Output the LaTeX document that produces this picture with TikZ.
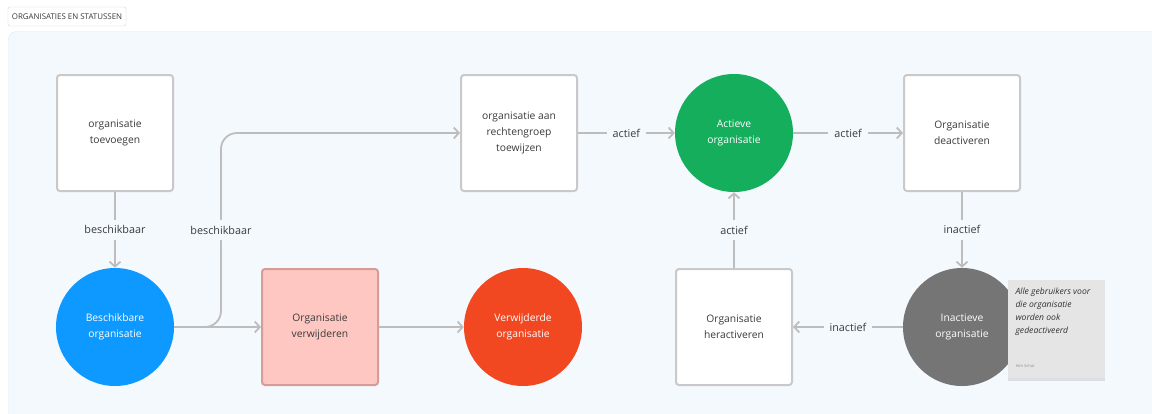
\documentclass[tikz,border=0pt]{standalone}
\usepackage{fontspec}
\setmainfont{Open Sans}
\usetikzlibrary{arrows.meta,shadows}

\definecolor{panelbg}{HTML}{F4F9FE}
\definecolor{panelline}{HTML}{D8E9F9}
\definecolor{boxline}{HTML}{C9C9C9}
\definecolor{lineclr}{HTML}{BDBDBD}
\definecolor{txtgray}{HTML}{3A3A3A}
\definecolor{figblue}{HTML}{0D99FF}
\definecolor{figgreen}{HTML}{14AE5C}
\definecolor{figred}{HTML}{F24822}
\definecolor{figgray}{HTML}{757575}
\definecolor{pinkfill}{HTML}{FFC7C2}
\definecolor{pinkline}{HTML}{D69C97}
\definecolor{notefill}{HTML}{E5E5E5}

\begin{document}
\begin{tikzpicture}[x=1pt,y=-1pt,
  every node/.style={font=\fontsize{10.3}{16}\selectfont, text=txtgray, align=center},
  stepbox/.style={draw=boxline, fill=white, line width=2pt, rounded corners=3pt,
    minimum width=116pt, minimum height=116pt, inner sep=0pt},
  statecirc/.style={circle, minimum size=118pt, inner sep=0pt, text=white},
  flow/.style={draw=lineclr, line width=1.8pt, -{Straight Barb[length=5pt,width=11pt]}},
  lbl/.style={fill=panelbg, inner sep=6pt, font=\fontsize{10.8}{12}\selectfont}]
    \useasboundingbox (0,0) rectangle (1152,413);
    \fill[white] (0,0) rectangle (1152,413);
    \begin{scope}
    \clip (0,0) rectangle (1152,413);
    \draw[panelline, fill=panelbg, rounded corners=8pt] (8.5,31.5) rectangle (1170,430);
    \end{scope}
    \node[draw=boxline!80, fill=white, rounded corners=2pt, minimum width=118pt,
      minimum height=19pt, inner sep=0pt, font=\fontsize{7.9}{8}\selectfont] (title) at (67,16.5) {ORGANISATIES EN STATUSSEN};

    % top row
    \node[stepbox] (toevoegen) at (115,133) {organisatie\\toevoegen};
    \node[stepbox] (toewijzen) at (519,133) {organisatie aan\\rechtengroep\\toewijzen};
    \node[statecirc, fill=figgreen] (actief) at (734,133) {Actieve\\organisatie};
    \node[stepbox] (deactiveren) at (962,133) {Organisatie\\deactiveren};

    % bottom row
    \node[statecirc, fill=figblue] (beschikbaar) at (115,327) {Beschikbare\\organisatie};
    \node[stepbox, draw=pinkline, fill=pinkfill] (verwijderen) at (320,327) {Organisatie\\verwijderen};
    \node[statecirc, fill=figred] (verwijderd) at (523,327) {Verwijderde\\organisatie};
    \node[stepbox] (heractiveren) at (734,327) {Organisatie\\heractiveren};
    \node[statecirc, fill=figgray] (inactief) at (962,327) {Inactieve\\organisatie};

    % note
    \node[fill=notefill, minimum width=97pt, minimum height=98pt, inner sep=0pt,
      drop shadow={opacity=0.2, shadow xshift=0pt, shadow yshift=-2.5pt}] (note) at (1056.5,329) {};
    \node[anchor=north west, align=left, inner sep=0pt, text=black!80,
      font=\fontsize{8.6}{13}\selectfont\itshape] (notetext) at ([xshift=7.5pt,yshift=-8pt]note.north west)
      {Alle gebruikers voor\\die organisatie\\worden ook\\gedeactiveerd};
    \node[anchor=south west, inner sep=0pt, text=black!45, font=\fontsize{4}{4}\selectfont]
      (noteauthor) at ([xshift=8pt,yshift=10pt]note.south west) {Kim Schut};

    % connectors
    \draw[flow] (toevoegen) -- node[lbl] {beschikbaar} (beschikbaar);
    \draw[flow] (beschikbaar) -- (verwijderen);
    \draw[flow, rounded corners=16pt] (beschikbaar.east) -- (221,327) -- node[lbl] {beschikbaar} (221,133) -- (toewijzen.west);
    \draw[flow] (verwijderen) -- (verwijderd);
    \draw[flow] (toewijzen) -- node[lbl] {actief} (actief);
    \draw[flow] (actief) -- node[lbl] {actief} (deactiveren);
    \draw[flow] (deactiveren) -- node[lbl] {inactief} (inactief);
    \draw[flow] (inactief) -- node[lbl] {inactief} (heractiveren);
    \draw[flow] (heractiveren) -- node[lbl] {actief} (actief);
\end{tikzpicture}
\end{document}
